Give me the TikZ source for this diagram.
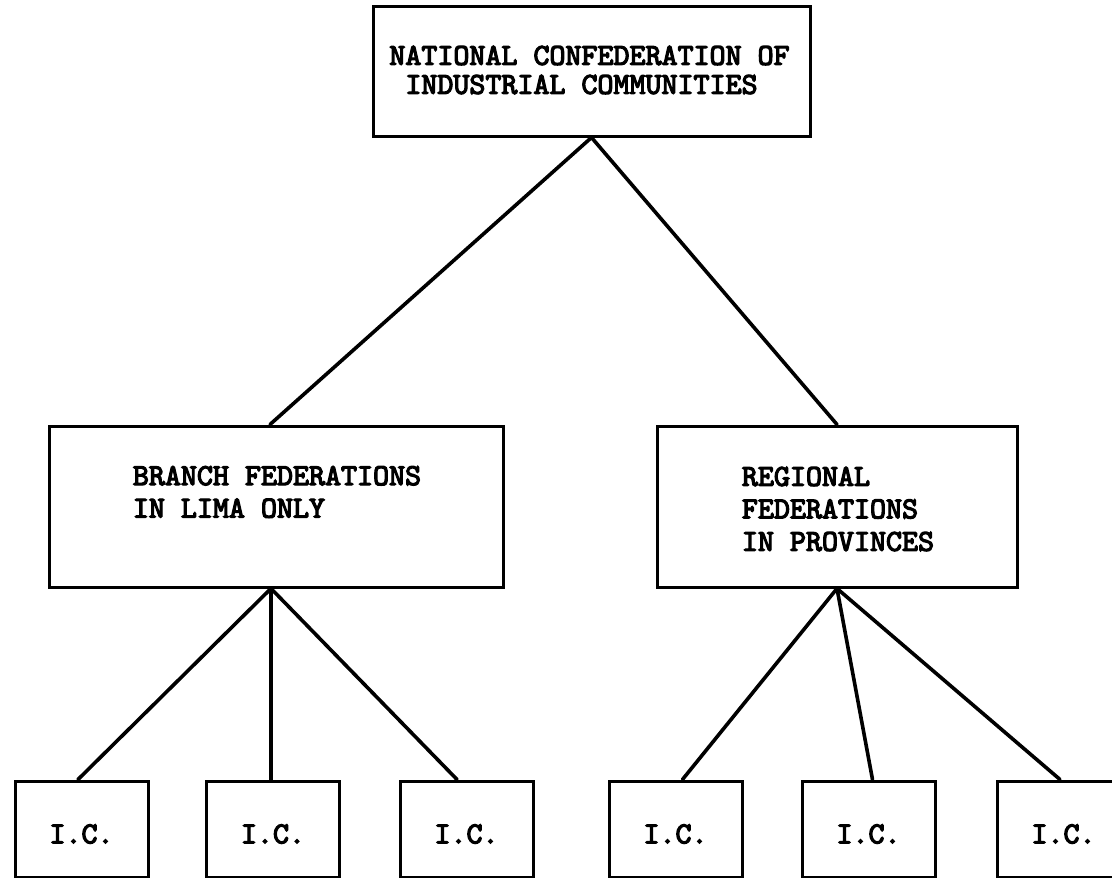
\documentclass[tikz,border=0pt]{standalone}
\usepackage{fontspec}
\newfontfamily\tw{lmmono10-regular.otf}[FakeBold=4]
\begin{document}
\begin{tikzpicture}[x=1pt,y=-1pt,
  frame/.style={draw=black, line width=3pt, inner sep=0pt},
  lbl/.style={font={\tw\fontsize{30.5}{#1}\selectfont}, align=left, inner sep=0pt},
  lbl/.default=32.5,
  link/.style={line width=3.6pt, line cap=round}]
\useasboundingbox[fill=white] (0,0) rectangle (1112,878);
% boxes
\node[frame, minimum width=437, minimum height=130] (top) at (591.5,71) {};
\node[frame, minimum width=454, minimum height=161] (lb) at (276,506.5) {};
\node[frame, minimum width=360, minimum height=161] (rb) at (837,506.5) {};
\foreach \n/\cx in {1/81.5,2/273,3/466.5,4/675.5,5/868.5,6/1063.5}
  \node[frame, minimum width=133, minimum height=96] (ic\n) at (\cx,829) {};
% texts
\node[lbl=29] (toptext) at (589.5,70) {NATIONAL CONFEDERATION OF\\\hphantom{N}INDUSTRIAL COMMUNITIES};
\node[lbl] (lbtext) at (277,492) {BRANCH FEDERATIONS\\IN LIMA ONLY};
\node[lbl] (rbtext) at (838,509) {REGIONAL\\FEDERATIONS\\IN PROVINCES};
\foreach \n in {1,...,6}
  \node[lbl] (ict\n) at (ic\n) [yshift=-5pt] {I.C.};
% connectors
\draw[link] (top.south) -- ([xshift=-6pt]lb.north);
\draw[link] (top.south) -- (rb.north);
\draw[link] ([xshift=-5pt]lb.south) -- ([xshift=-3.5pt]ic1.north);
\draw[link] ([xshift=-5pt]lb.south) -- ([xshift=-2pt]ic2.north);
\draw[link] ([xshift=-5pt]lb.south) -- ([xshift=-9.5pt]ic3.north);
\draw[link] (rb.south) -- ([xshift=7pt]ic4.north);
\draw[link] (rb.south) -- ([xshift=4pt]ic5.north);
\draw[link] (rb.south) -- ([xshift=-3.5pt]ic6.north);
\end{tikzpicture}
\end{document}
